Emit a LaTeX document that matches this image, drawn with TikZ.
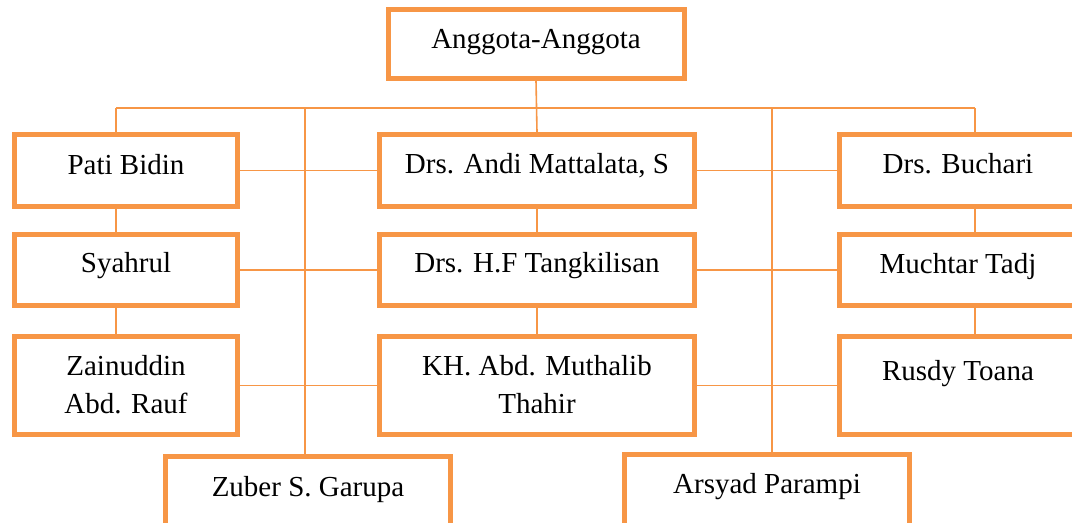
\documentclass[tikz,border=0pt]{standalone}
\usepackage{fontspec}
\setmainfont{Liberation Serif}
\definecolor{org}{HTML}{F79646}
\begin{document}
\begin{tikzpicture}[x=0.75pt,y=-0.75pt,
  box/.style 2 args={draw=org, line width=3.75pt, inner sep=0pt,
    minimum width=#1*0.75pt, minimum height=#2*0.75pt},
  conn/.style={draw=org, line width=1.2pt},
  lbl/.style={anchor=base, inner sep=0pt,
    font=\fontsize{21.75}{28.5}\selectfont}]
\useasboundingbox[fill=white] (0,0) rectangle (1072,522);
% boxes
\node[box={296}{69}] (top) at (536,43.5) {};
\node[box={223}{72}] (pati) at (126,170.5) {};
\node[box={223}{71}] (syahrul) at (126,270) {};
\node[box={223}{98}] (zain) at (126,385.5) {};
\node[box={315}{72}] (andi) at (537,170.5) {};
\node[box={315}{71}] (tang) at (537,270) {};
\node[box={315}{98}] (kh) at (537,385.5) {};
\node[box={237}{72}] (buchari) at (958,170.5) {};
\node[box={237}{71}] (muchtar) at (958,270) {};
\node[box={237}{98}] (rusdy) at (958,385.5) {};
\node[box={285}{71}] (zuber) at (308,492) {};
\node[box={285}{71}] (arsyad) at (767,490) {};
% labels
\node[lbl] (ttop) at (536,48) {Anggota-Anggota};
\node[lbl] (tpati) at (126,174) {Pati Bidin};
\node[lbl] (tsyahrul) at (126,272.5) {Syahrul};
\node[lbl] (tzain) at (126,375) {\begin{tabular}[t]{@{}c@{}}Zainuddin\\Abd. Rauf\end{tabular}};
\node[lbl] (tandi) at (537,173) {Drs. Andi Mattalata, S};
\node[lbl] (ttang) at (537,272.5) {Drs. H.F Tangkilisan};
\node[lbl] (tkh) at (537,375.5) {\begin{tabular}[t]{@{}c@{}}KH. Abd. Muthalib\\Thahir\end{tabular}};
\node[lbl] (tbuchari) at (958,173) {Drs. Buchari};
\node[lbl] (tmuchtar) at (958,273) {Muchtar Tadj};
\node[lbl] (trusdy) at (958,380) {Rusdy Toana};
\node[lbl] (tzuber) at (308,496) {Zuber S. Garupa};
\node[lbl] (tarsyad) at (767,493) {Arsyad Parampi};
% bus coordinates
\coordinate (busL) at (116,108);
\coordinate (busR) at (975,108);
\coordinate (trL) at (305,108);
\coordinate (trR) at (772,108);
% connectors
\begin{scope}[on background layer/.style={}]
\draw[conn] (top.south) -- (andi.north);
\draw[conn] (busL) -- (busR);
\draw[conn] (busL) -- (pati.north -| busL);
\draw[conn] (busR) -- (buchari.north -| busR);
\draw[conn] (trL) -- (zuber.north -| trL);
\draw[conn] (trR) -- (arsyad.north -| trR);
\draw[conn] (pati.south -| busL) -- (syahrul.north -| busL);
\draw[conn] (syahrul.south -| busL) -- (zain.north -| busL);
\draw[conn] (buchari.south -| busR) -- (muchtar.north -| busR);
\draw[conn] (muchtar.south -| busR) -- (rusdy.north -| busR);
\draw[conn] (andi.south) -- (tang.north);
\draw[conn] (tang.south) -- (kh.north);
\draw[conn] (pati.east) -- (andi.west);
\draw[conn] (andi.east) -- (buchari.west);
\draw[conn] (syahrul.east) -- (tang.west);
\draw[conn] (tang.east) -- (muchtar.west);
\draw[conn] (zain.east) -- (kh.west);
\draw[conn] (kh.east) -- (rusdy.west);
\end{scope}
\end{tikzpicture}
\end{document}
